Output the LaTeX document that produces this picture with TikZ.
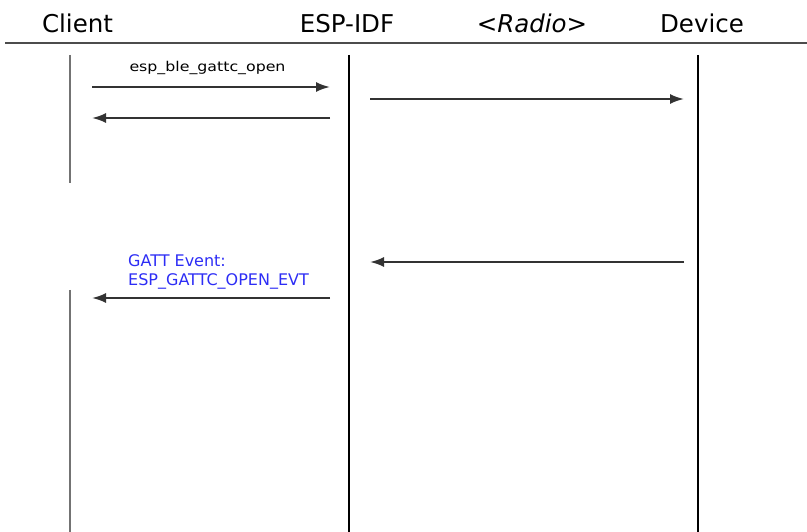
\documentclass[tikz,border=0pt]{standalone}
\usepackage{fontspec}
\setmainfont{DejaVu Sans}
\newfontfamily\callfont[FakeStretch=1.17]{DejaVu Sans}
\usetikzlibrary{arrows.meta}
\definecolor{evtblue}{RGB}{45,45,245}

\tikzset{
  msg/.style={line width=2pt, draw=black!80, -{Latex[length=14pt,width=10pt]}},
  head/.style={font=\fontsize{24.5}{28}\selectfont, anchor=base, inner sep=0pt},
  lbl/.style={font=\callfont\fontsize{13.5}{16}\selectfont, anchor=base, inner sep=0pt},
  evt/.style={font=\fontsize{16}{19}\selectfont, text=evtblue, align=left, anchor=base west, inner sep=0pt}
}

\begin{document}
\begin{tikzpicture}[x=1pt, y=-1pt]
				\useasboundingbox (0,0) rectangle (807,532);

				% Header
				\node[head] (client) at (77.5,33) {Client};
				\node[head] (idf) at (347,33) {ESP-IDF};
				\node[head] (radio) at (532,33) {<\textit{Radio}>};
				\node[head] (device) at (702,33) {Device};
				\draw[line width=2.4pt, black!70] (5,43) -- (807,43);

				% Lifelines
				\draw[line width=2.4pt, black!55] (70,55) -- (70,183);
				\draw[line width=2.4pt, black!55] (70,290) -- (70,532);
				\draw[line width=1.4pt] (349,55) -- (349,532);
				\draw[line width=1.4pt] (698,55) -- (698,532);

				% Message ends
				\coordinate (c1) at (92,87);   \coordinate (e1) at (330,87);
				\coordinate (c2) at (92,118);  \coordinate (e2) at (330,118);
				\coordinate (r1) at (370,99);  \coordinate (d1) at (684,99);
				\coordinate (r2) at (370,262); \coordinate (d2) at (684,262);
				\coordinate (c3) at (92,298);  \coordinate (e3) at (330,298);

				% Messages
				\draw[msg] (c1) -- (e1);
				\node[lbl] (open) at (207.5,72) {esp\_ble\_gattc\_open};
				\draw[msg] (e2) -- (c2);
				\draw[msg] (r1) -- (d1);
				\draw[msg] (d2) -- (r2);
				\draw[msg] (e3) -- (c3);
				\node[evt] (openevt) at (128,286) {GATT Event:\\ESP\_GATTC\_OPEN\_EVT};
			\end{tikzpicture}
\end{document}
